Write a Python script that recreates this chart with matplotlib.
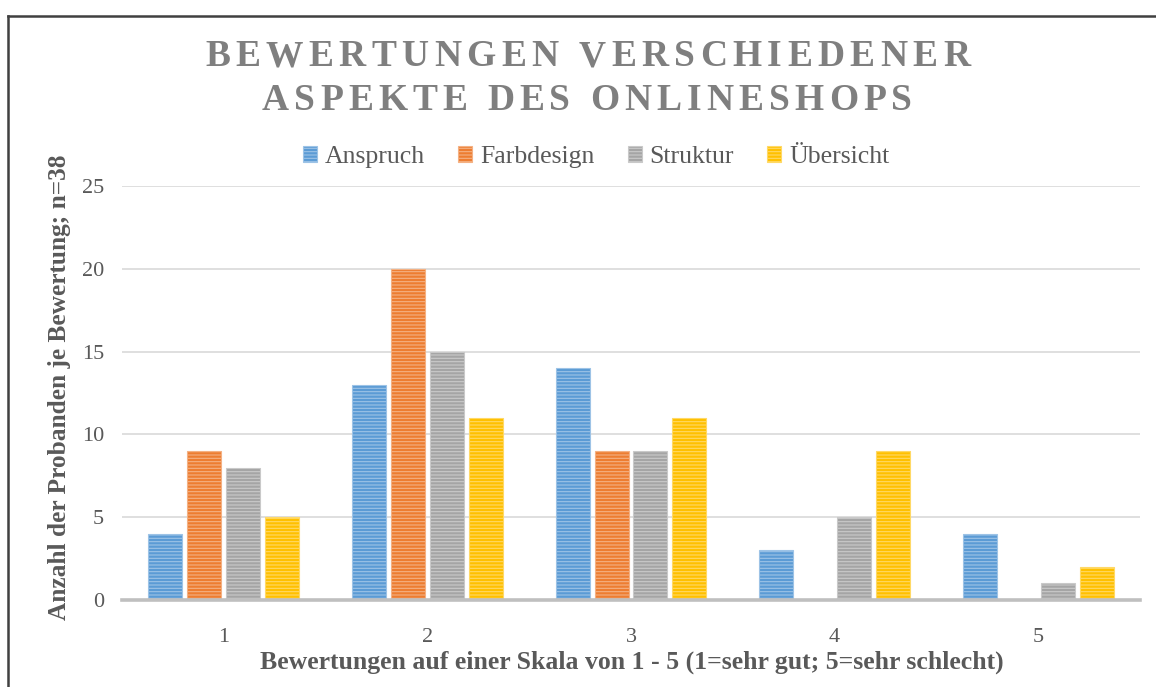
import matplotlib
matplotlib.use("Agg")
import matplotlib.pyplot as plt
import numpy as np
from matplotlib.colors import to_rgb

categories = ["1", "2", "3", "4", "5"]
series_names = ["Anspruch", "Farbdesign", "Struktur", "Übersicht"]
anspruch = [4, 13, 14, 3, 4]
farbdesign = [9, 20, 9, 0, 0]
struktur = [8, 15, 9, 5, 1]
uebersicht = [5, 11, 11, 9, 2]
y_ticks = [0, 5, 10, 15, 20, 25]
title_lines = ["BEWERTUNGEN VERSCHIEDENER", "ASPEKTE DES ONLINESHOPS"]
x_label = "Bewertungen auf einer Skala von 1 - 5 (1=sehr gut; 5=sehr schlecht)"
y_label = "Anzahl der Probanden je Bewertung; n=38"

colors = ["#5b9bd5", "#ed7d31", "#a5a5a5", "#ffc000"]

def lighten(c, f):
    r, g, b = to_rgb(c)
    return (r + (1 - r) * f, g + (1 - g) * f, b + (1 - b) * f)

plt.rcParams['font.family'] = ['Liberation Serif', 'DejaVu Serif']
plt.rcParams['hatch.linewidth'] = 0.8

W, H = 1156, 687
fig = plt.figure(figsize=(W / 100, H / 100), dpi=100)
ax = fig.add_axes([122 / W, 1 - 600 / H, (1140 - 122) / W, (600 - 186) / H])

x = np.arange(1, len(categories) + 1)
data = [anspruch, farbdesign, struktur, uebersicht]
bw = 0.167
step = 0.1914
handles = []
for i, (vals, c) in enumerate(zip(data, colors)):
    off = (i - 1.5) * step
    bars = ax.bar(x + off, vals, width=bw, color=c, edgecolor=lighten(c, 0.4),
                  linewidth=0.8, hatch="-----", zorder=3, label=series_names[i])
    handles.append(bars)

ax.set_xlim(0.5, 5.5)
ax.set_ylim(0, 25)
ax.set_yticks(y_ticks)
ax.set_xticks(x)
ax.set_xticklabels(categories)
ax.grid(axis="y", color="#d9d9d9", linewidth=1.2, zorder=0)
ax.set_axisbelow(True)
for s in ["top", "right", "left"]:
    ax.spines[s].set_visible(False)
ax.spines["bottom"].set_color("#bfbfbf")
ax.spines["bottom"].set_linewidth(2.6)
ax.spines["bottom"].set_zorder(4)
ax.tick_params(axis="both", length=0, labelsize=16, labelcolor="#595959")
ax.tick_params(axis="y", pad=13)
ax.tick_params(axis="x", pad=20)

ax.text((631.5 - 122) / (1140 - 122), -(662 - 600) / (600 - 186),
        x_label, transform=ax.transAxes, fontsize=18.5, fontweight="bold",
        color="#595959", ha="center", va="center")
ax.text(-(122 - 60) / (1140 - 122), (600 - 387) / (600 - 186), y_label,
        transform=ax.transAxes, fontsize=18.3, fontweight="bold", color="#595959",
        ha="center", va="center", rotation=90)

leg = fig.legend(handles=handles, labels=series_names, loc="center",
                 bbox_to_anchor=(596 / W, 1 - 157 / H), ncol=4, frameon=False,
                 fontsize=18.5, handlelength=0.55, handleheight=0.55,
                 handletextpad=0.3, columnspacing=1.3, labelcolor="#595959")

# Title with letter spacing
fig.canvas.draw()
renderer = fig.canvas.get_renderer()
title_specs = [(title_lines[0], 205, 970, 57), (title_lines[1], 262, 912, 100)]
fs_title = 27
for text, x0, x1, yc in title_specs:
    widths = []
    for ch in text:
        t = fig.text(0, 0, ch, fontsize=fs_title, fontweight="bold")
        widths.append(t.get_window_extent(renderer).width)
        t.remove()
    natural = sum(widths)
    track = ((x1 - x0) - natural) / (len(text) - 1)
    pos = x0
    for ch, w in zip(text, widths):
        fig.text(pos / W, 1 - yc / H, ch, fontsize=fs_title, fontweight="bold",
                 color="#7f7f7f", ha="left", va="center")
        pos += w + track

# outer frame
fig.add_artist(plt.Line2D([8 / W, 8 / W], [0, 1 - 16 / H], color="#404040", lw=1.8,
                          transform=fig.transFigure))
fig.add_artist(plt.Line2D([8 / W, 1], [1 - 16 / H, 1 - 16 / H], color="#404040", lw=1.8,
                          transform=fig.transFigure))

fig.savefig("out.png", dpi=100)
